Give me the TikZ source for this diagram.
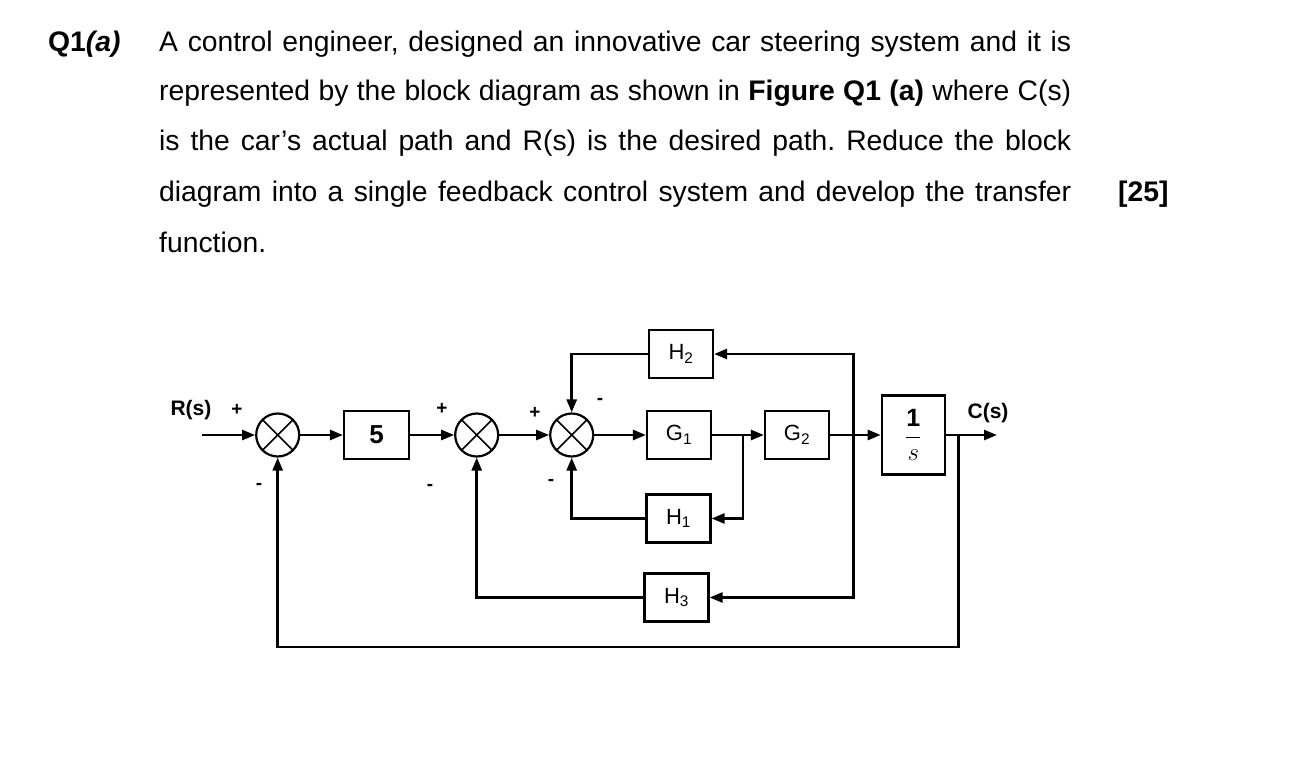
\documentclass[tikz,border=0pt]{standalone}
\usepackage{fontspec}
\setmainfont{Liberation Sans}
\usetikzlibrary{arrows.meta,calc}
\frenchspacing
\begin{document}
\begin{tikzpicture}[x=1pt,y=-1pt,
  txt/.style={anchor=base west, inner sep=0pt, font=\fontsize{28.3}{34}\selectfont},
  blk/.style={draw, line width=2.2pt, minimum width=64pt, minimum height=48pt, inner sep=0pt, font=\fontsize{22}{22}\selectfont},
  sumj/.style={draw, circle, line width=2.2pt, minimum size=43pt, inner sep=0pt,
    path picture={\draw[line width=1.5pt] (path picture bounding box.north west) -- (path picture bounding box.south east)
      (path picture bounding box.north east) -- (path picture bounding box.south west);}},
  sig/.style={line width=2.6pt, line join=miter, -{Triangle[length=13pt,width=10pt]}},
  lbl/.style={inner sep=0pt, font=\bfseries\fontsize{21}{21}\selectfont},
  sgn/.style={inner sep=0pt, font=\bfseries\fontsize{19}{19}\selectfont}]
\fill[white] (0,0) rectangle (1289,759);
\useasboundingbox (0,0) rectangle (1289,759);

% text
\node[txt] (q) at (48,52) {\bfseries Q1\textit{(a)}};
\node[txt] (l1) at (159,52) {\makebox[912pt][s]{A control engineer, designed an innovative car steering system and it is}};
\node[txt] (l2) at (159,101) {\makebox[912pt][s]{represented by the block diagram as shown in \textbf{Figure Q1 (a)} where C(s)}};
\node[txt] (l3) at (159,151) {\makebox[912pt][s]{is the car’s actual path and R(s) is the desired path. Reduce the block}};
\node[txt] (l4) at (159,202) {\makebox[912pt][s]{diagram into a single feedback control system and develop the transfer}};
\node[txt] (l5) at (159,252) {function.};
\node[txt] (mk) at (1118,202) {\bfseries [25]};

% blocks
\node[sumj] (s1) at (277.7,435) {};
\node[blk, minimum width=65pt] (k5) at (376.5,435) {\bfseries\fontsize{26}{26}\selectfont 5};
\node[sumj] (s2) at (476.7,435) {};
\node[sumj] (s3) at (571.7,435) {};
\node[blk] (g1) at (679,435) {G\textsubscript{1}};
\node[blk] (g2) at (797,435) {G\textsubscript{2}};
\node[blk] (h2) at (681,354) {H\textsubscript{2}};
\node[blk] (h1) at (678.5,518.5) {H\textsubscript{1}};
\node[blk] (h3) at (676.5,597.5) {H\textsubscript{3}};
\node[blk, minimum width=63pt, minimum height=79pt, font=\fontsize{25}{25}\selectfont] (ints) at (913.3,435) {$\displaystyle\frac{\mathbf{1}}{s}$};

% coordinates
\coordinate (in) at (201.7,435);
\coordinate (out) at (997,435);
\coordinate (tapA) at (743,435);
\coordinate (tapB) at (853.3,435);
\coordinate (tapC) at (958.3,435);
\coordinate (bot) at (958.3,647);

% forward path
\draw[sig] (in) -- (s1.west);
\draw[sig] (s1.east) -- (k5.west);
\draw[sig] (k5.east) -- (s2.west);
\draw[sig] (s2.east) -- (s3.west);
\draw[sig] (s3.east) -- (g1.west);
\draw[sig] (g1.east) -- (g2.west);
\draw[sig] (g2.east) -- (ints.west);
\draw[sig] (ints.east) -- (out);

% feedback loops
\draw[sig] (tapB) |- (h2.east);
\draw[sig] (h2.west) -| (s3.north);
\draw[sig] (tapA) |- (h1.east);
\draw[sig] (h1.west) -| (s3.south);
\draw[sig] (tapB) |- (h3.east);
\draw[sig] (h3.west) -| (s2.south);
\draw[sig] (tapC) -- (bot) -| (s1.south);

% labels
\node[lbl] (rs) at (191,410) {R(s)};
\node[lbl] (cs) at (988,413) {C(s)};
\node[sgn] (p1) at (237,410) {+};
\node[sgn] (m1) at (259,486) {-};
\node[sgn] (p2) at (442,409) {+};
\node[sgn] (m2) at (430,487) {-};
\node[sgn] (p3) at (535,413) {+};
\node[sgn] (m3) at (600,401) {-};
\node[sgn] (m4) at (551,482) {-};
\end{tikzpicture}
\end{document}
